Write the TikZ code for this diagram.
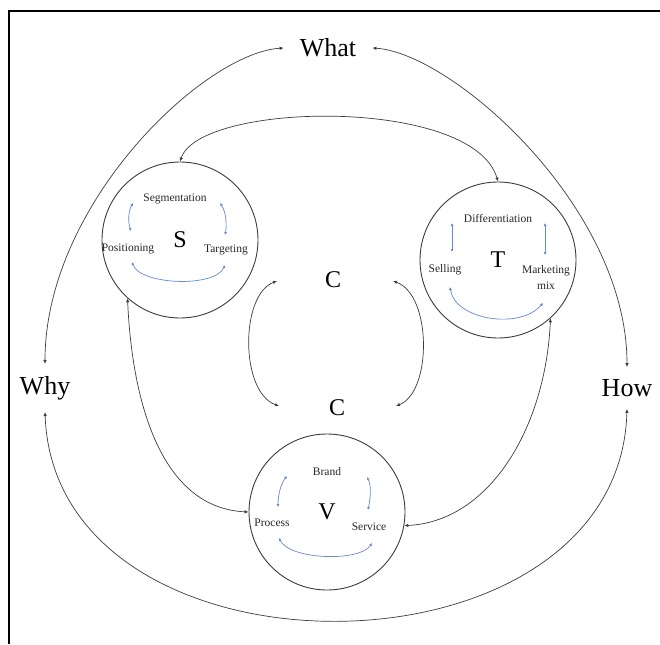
\documentclass[tikz,border=0pt]{standalone}
\usepackage{fontspec}
\setmainfont{Liberation Serif}
\usetikzlibrary{arrows.meta, positioning}
\definecolor{linkblue}{RGB}{105,135,205}
\definecolor{edgegray}{RGB}{60,60,60}
\tikzset{
  hub/.style={circle, draw=edgegray, line width=0.9pt, minimum size=156pt, inner sep=0pt, font=\fontsize{24}{26}\selectfont},
  big/.style={inner xsep=16pt, inner ysep=12pt, font=\fontsize{26}{28}\selectfont},
  cee/.style={inner sep=2pt, font=\fontsize{24}{26}\selectfont},
  tag/.style={inner sep=1pt, align=center, font=\fontsize{11.5}{16}\selectfont, text=black!85},
  arrow/.style={{Latex[length=4pt,width=3.5pt]}-{Latex[length=4pt,width=3.5pt]}, draw=edgegray, line width=0.7pt},
  barrow/.style={{Latex[length=3pt,width=3pt]}-{Latex[length=3pt,width=3pt]}, draw=linkblue, line width=0.7pt},
}
\begin{document}
\begin{tikzpicture}[x=1pt, y=-1pt]
\useasboundingbox (0,0) rectangle (660,644);
\draw[line width=2pt] (9,644) -- (9,11) -- (660,11);
% outer words
\node[big] (what) at (328,48) {What};
\node[big] (why) at (45,388) {Why};
\node[big] (how) at (627,388) {How};
\node[cee] (c1) at (333,280) {C};
\node[cee] (c2) at (337,408) {C};
% circles
\node[hub] (s) at (180,240) {S};
\node[hub] (t) at (498,260) {T};
\node[hub] (v) at (327,512) {V};
% inner labels
\node[tag] (seg) at (175,199) {Segmentation};
\node[tag] (pos) at (128,249) {Positioning};
\node[tag] (tar) at (226,250) {Targeting};
\node[tag] (dif) at (498,219) {Differentiation};
\node[tag] (sel) at (445,270) {Selling};
\node[tag] (mkt) at (546,278) {Marketing\\mix};
\node[tag] (brd) at (327,472) {Brand};
\node[tag] (pro) at (272,523) {Process};
\node[tag] (ser) at (369,527) {Service};
% free ends
\coordinate (cl1) at (277,281); \coordinate (cl2) at (279,406);
\coordinate (cr1) at (393,281); \coordinate (cr2) at (396,406);
\coordinate (s1) at (133,203); \coordinate (s2) at (131,231);
\coordinate (s3) at (220,203); \coordinate (s4) at (225,235);
\coordinate (s5) at (132,262); \coordinate (s6) at (225,265);
\coordinate (t1) at (452,223); \coordinate (t2) at (452,252);
\coordinate (t3) at (545,223); \coordinate (t4) at (545,255);
\coordinate (t5) at (450,287); \coordinate (t6) at (543,303);
\coordinate (v1) at (287,476); \coordinate (v2) at (278,507);
\coordinate (v3) at (367,477); \coordinate (v4) at (368,510);
\coordinate (v5) at (279,538); \coordinate (v6) at (372,543);
% black links
\draw[arrow] (what.west) .. controls +(-80,5) and +(0,-160) .. (why.north);
\draw[arrow] (what.east) .. controls +(80,5) and +(0,-160) .. (how.north);
\draw[arrow] (why.south) .. controls +(10,280) and +(-8,280) .. (how.south);
\draw[arrow] (s.north) .. controls +(20,-60) and +(-25,-85) .. (t.north);
\draw[arrow] (s.228) .. controls +(5,110) and +(-85,-4) .. (v.west);
\draw[arrow] (t.312) .. controls +(-5,110) and +(85,-4) .. (v.350);
\draw[arrow] (cl1) .. controls (240,295) and (240,392) .. (cl2);
\draw[arrow] (cr1) .. controls (432,295) and (432,392) .. (cr2);
% blue links
\draw[barrow] (s1) .. controls (128,212) and (128,222) .. (s2);
\draw[barrow] (s3) .. controls (226,212) and (227,225) .. (s4);
\draw[barrow] (s5) .. controls (140,285) and (215,288) .. (s6);
\draw[barrow] (t1) -- (t2);
\draw[barrow] (t3) -- (t4);
\draw[barrow] (t5) .. controls (455,320) and (520,330) .. (t6);
\draw[barrow] (v1) .. controls (280,485) and (278,497) .. (v2);
\draw[barrow] (v3) .. controls (372,487) and (370,500) .. (v4);
\draw[barrow] (v5) .. controls (290,560) and (360,562) .. (v6);
\end{tikzpicture}
\end{document}
